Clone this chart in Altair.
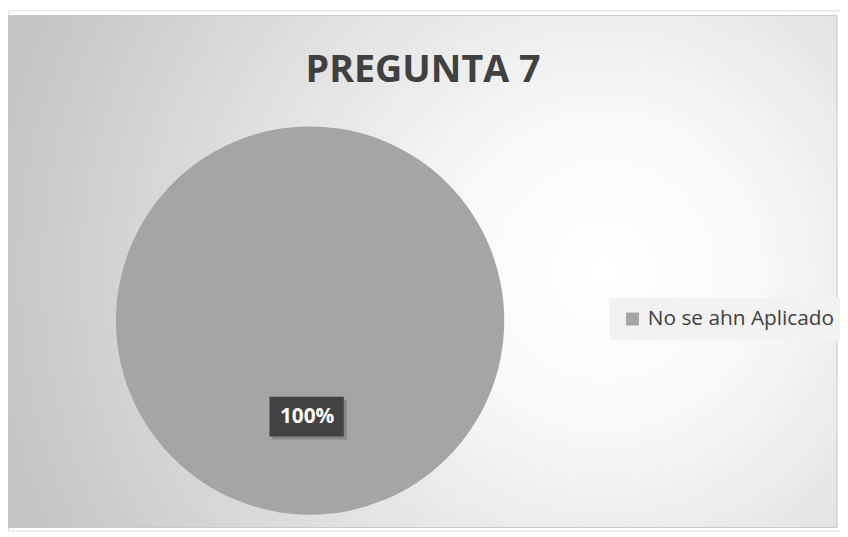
import altair as alt
import pandas as pd

categories = ["No se ahn Aplicado"]
values = [100]
labels = ["100%"]
title_text = "PREGUNTA 7"

df = pd.DataFrame({"cat": categories, "val": values, "lab": labels})

W, H = 840, 525
CX, CY, R = 305, 313, 196
FONT = "Open Sans"

bg = alt.Chart(pd.DataFrame({"a": [0]})).mark_rect(
    fill={
        "gradient": "radial",
        "x1": 0.72, "y1": 0.5, "r1": 0.0,
        "x2": 0.72, "y2": 0.5, "r2": 0.75,
        "stops": [
            {"offset": 0.0, "color": "#ffffff"},
            {"offset": 0.25, "color": "#f8f8f8"},
            {"offset": 1.0, "color": "#c4c4c4"},
        ],
    },
    stroke="#c8c8c8", strokeWidth=1,
).encode(x=alt.value(-2), x2=alt.value(837), y=alt.value(5), y2=alt.value(522))

title = alt.Chart(pd.DataFrame({"t": [title_text]})).mark_text(
    font=FONT, fontSize=38, fontWeight="bold", color="#404040", baseline="middle", align="center"
).encode(text="t:N", x=alt.value(419), y=alt.value(61))

pie = alt.Chart(df).mark_arc(outerRadius=R, stroke=None).encode(
    theta=alt.Theta("val:Q", stack=True),
    color=alt.Color(
        "cat:N",
        scale=alt.Scale(domain=categories, range=["#a5a5a5"]),
        legend=alt.Legend(
            title=None, orient="none", legendX=607, legendY=290,
            symbolType="square", symbolSize=170, symbolStrokeWidth=0,
            labelFont=FONT, labelFontSize=21, labelColor="#404040", labelLimit=400,
            fillColor="#f2f2f2", padding=11, symbolOffset=2, labelOffset=5,
        ),
    ),
    x=alt.value(CX), y=alt.value(CY),
)

shadow = alt.Chart(pd.DataFrame({"a": [0]})).mark_rect(color="#000000", opacity=0.18).encode(
    x=alt.value(267), x2=alt.value(342), y=alt.value(393), y2=alt.value(433)
)
box = alt.Chart(pd.DataFrame({"a": [0]})).mark_rect(color="#424242").encode(
    x=alt.value(264), x2=alt.value(339), y=alt.value(390), y2=alt.value(430)
)

lab = alt.Chart(df).mark_text(
    font=FONT, fontSize=21, fontWeight="bold", color="#ffffff", radius=97
).encode(
    theta=alt.Theta("val:Q", stack=True), text="lab:N",
    x=alt.value(CX - 3), y=alt.value(CY),
)

chart = alt.layer(bg, title, pie, shadow, box, lab).properties(
    width=W, height=H, padding=0, autosize=alt.AutoSizeParams(type="none")
).configure_view(stroke=None).configure(background="#ffffff")

chart.save("out.html", embed_options={"renderer": "svg", "actions": False})
